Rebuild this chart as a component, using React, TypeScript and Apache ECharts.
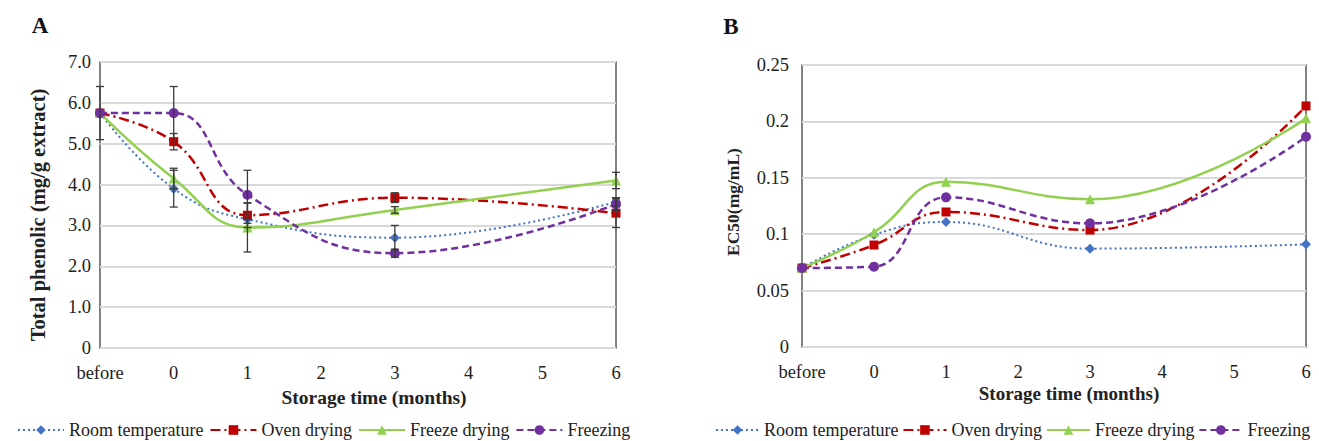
import React, { useEffect, useRef } from "react";
import * as echarts from "echarts";

const xPositions = [-1, 0, 1, 3, 6];
const seriesNames = ["Room temperature", "Oven drying", "Freeze drying", "Freezing"];

// Panel A: Total phenolic (mg/g extract)
const phenolRoom = [5.75, 3.9, 3.15, 2.7, 3.58];
const phenolOven = [5.75, 5.05, 3.25, 3.68, 3.3];
const phenolFreezeDry = [5.75, 4.15, 2.95, 3.38, 4.1];
const phenolFreezing = [5.75, 5.75, 3.75, 2.32, 3.52];
const errRoom = [0, 0.45, 0.1, 0.3, 0.1];
const errOven = [0, 0.2, 0.3, 0.12, 0.35];
const errFreezeDry = [0, 0.25, 0.6, 0.08, 0.2];
const errFreezing = [0.65, 0.65, 0.6, 0.1, 0.15];

// Panel B: EC50 (mg/mL)
const ec50Room = [0.07, 0.0995, 0.1108, 0.0872, 0.091];
const ec50Oven = [0.07, 0.0904, 0.1197, 0.1037, 0.2137];
const ec50FreezeDry = [0.07, 0.1017, 0.1465, 0.131, 0.2027];
const ec50Freezing = [0.07, 0.0712, 0.1327, 0.1096, 0.1865];

const FONT = "'Liberation Serif', 'Times New Roman', serif";

const styles = [
  { color: "#4472C4", symbol: "diamond", size: 10, type: [2, 3] as any, width: 2 },
  { color: "#C00000", symbol: "rect", size: 9, type: [10, 4, 2, 4] as any, width: 2.5 },
  { color: "#92D050", symbol: "triangle", size: 10, type: "solid" as any, width: 2.5 },
  { color: "#7030A0", symbol: "circle", size: 10, type: [7, 4] as any, width: 2.5 },
];

function makeLine(name: string, values: number[], idx: number, axis: number) {
  const s = styles[idx];
  return {
    type: "line",
    name,
    xAxisIndex: axis,
    yAxisIndex: axis,
    data: xPositions.map((x, i) => [x, values[i]]),
    smooth: 0.45,
    symbol: s.symbol,
    symbolSize: s.size,
    showSymbol: true,
    itemStyle: { color: s.color },
    lineStyle: { color: s.color, width: s.width, type: s.type },
    z: 3,
  };
}

function makeErr(values: number[], errs: number[]) {
  return {
    type: "custom",
    xAxisIndex: 0,
    yAxisIndex: 0,
    z: 4,
    silent: true,
    data: xPositions.map((x, i) => [x, values[i], errs[i]]),
    encode: { x: 0, y: 1 },
    renderItem: (params: any, api: any) => {
      const x = api.value(0);
      const y = api.value(1);
      const e = api.value(2);
      if (!e) return null;
      const top = api.coord([x, y + e]);
      const bot = api.coord([x, y - e]);
      const w = 4;
      const st = { stroke: "#3a3a3a", lineWidth: 1.3 };
      return {
        type: "group",
        children: [
          { type: "line", shape: { x1: top[0], y1: top[1], x2: bot[0], y2: bot[1] }, style: st },
          { type: "line", shape: { x1: top[0] - w, y1: top[1], x2: top[0] + w, y2: top[1] }, style: st },
          { type: "line", shape: { x1: bot[0] - w, y1: bot[1], x2: bot[0] + w, y2: bot[1] }, style: st },
        ],
      };
    },
  };
}

const xLabel = (v: number) => (v === -1 ? "before" : String(v));

export default function App() {
  const ref = useRef<HTMLDivElement>(null);
  useEffect(() => {
    if (!ref.current) return;
    const chart = echarts.init(ref.current, null, { renderer: "svg" });
    const axisLabelBase = { fontFamily: FONT, fontSize: 18.5, color: "#222" };
    const xAxisBase = {
      type: "value",
      min: -1,
      max: 6,
      interval: 1,
      axisLine: { show: false },
      axisTick: { show: false },
      splitLine: { show: false },
      axisLabel: { ...axisLabelBase, margin: 15, formatter: xLabel },
    };
    const legendBase = {
      top: 421,
      itemHeight: 12,
      padding: 0,
      width: 640,
      textStyle: { fontFamily: FONT, fontSize: 18, color: "#222" },
      data: seriesNames,
    };
    const option: any = {
      animation: false,
      backgroundColor: "#fff",
      grid: [
        { left: 100, top: 62, width: 516, height: 286, show: true, borderColor: "#595959", borderWidth: 1.5, backgroundColor: "transparent" },
        { left: 802, top: 65, width: 504, height: 282, show: true, borderColor: "#595959", borderWidth: 1.5, backgroundColor: "transparent" },
      ],
      xAxis: [
        { ...xAxisBase, gridIndex: 0 },
        { ...xAxisBase, gridIndex: 1 },
      ],
      yAxis: [
        {
          type: "value",
          gridIndex: 0,
          min: 0,
          max: 7,
          interval: 1,
          axisLine: { show: false },
          axisTick: { show: false },
          splitLine: { show: true, lineStyle: { color: "#d9d9d9", width: 2 } },
          axisLabel: { ...axisLabelBase, margin: 9, formatter: (v: number) => (v === 0 ? "0" : v.toFixed(1)) },
        },
        {
          type: "value",
          gridIndex: 1,
          min: 0,
          max: 0.25,
          interval: 0.05,
          axisLine: { show: false },
          axisTick: { show: false },
          splitLine: { show: true, lineStyle: { color: "#d9d9d9", width: 2 } },
          axisLabel: { ...axisLabelBase, margin: 13, formatter: (v: number) => String(Math.round(v * 100) / 100) },
        },
      ],
      legend: [
        { ...legendBase, left: 17, itemWidth: 46, itemGap: 6 },
        { ...legendBase, left: 715, itemWidth: 43, itemGap: 4 },
      ],
      graphic: [
        { type: "text", x: 40, y: 25, style: { text: "A", font: `bold 23px ${FONT}`, fill: "#111", textAlign: "center", textVerticalAlign: "middle" } },
        { type: "text", x: 731, y: 26, style: { text: "B", font: `bold 23px ${FONT}`, fill: "#111", textAlign: "center", textVerticalAlign: "middle" } },
        { type: "text", x: 38, y: 215, rotation: Math.PI / 2, style: { text: "Total phenolic (mg/g extract)", font: `bold 20.5px ${FONT}`, fill: "#222", textAlign: "center", textVerticalAlign: "middle" } },
        { type: "text", x: 733, y: 202, rotation: Math.PI / 2, style: { text: "EC50(mg/mL)", font: `bold 17.5px ${FONT}`, fill: "#222", textAlign: "center", textVerticalAlign: "middle" } },
        { type: "text", x: 374, y: 397, style: { text: "Storage time (months)", font: `bold 19.5px ${FONT}`, fill: "#222", textAlign: "center", textVerticalAlign: "middle" } },
        { type: "text", x: 1069, y: 393, style: { text: "Storage time (months)", font: `bold 19px ${FONT}`, fill: "#222", textAlign: "center", textVerticalAlign: "middle" } },
      ],
      series: [
        makeLine(seriesNames[0], phenolRoom, 0, 0),
        makeLine(seriesNames[1], phenolOven, 1, 0),
        makeLine(seriesNames[2], phenolFreezeDry, 2, 0),
        makeLine(seriesNames[3], phenolFreezing, 3, 0),
        makeErr(phenolRoom, errRoom),
        makeErr(phenolOven, errOven),
        makeErr(phenolFreezeDry, errFreezeDry),
        makeErr(phenolFreezing, errFreezing),
        makeLine(seriesNames[0], ec50Room, 0, 1),
        makeLine(seriesNames[1], ec50Oven, 1, 1),
        makeLine(seriesNames[2], ec50FreezeDry, 2, 1),
        makeLine(seriesNames[3], ec50Freezing, 3, 1),
      ],
    };
    chart.setOption(option);
    return () => chart.dispose();
  }, []);
  return <div ref={ref} style={{ position: "fixed", left: 0, top: 0, width: 1319, height: 441, background: "#fff" }} />;
}
